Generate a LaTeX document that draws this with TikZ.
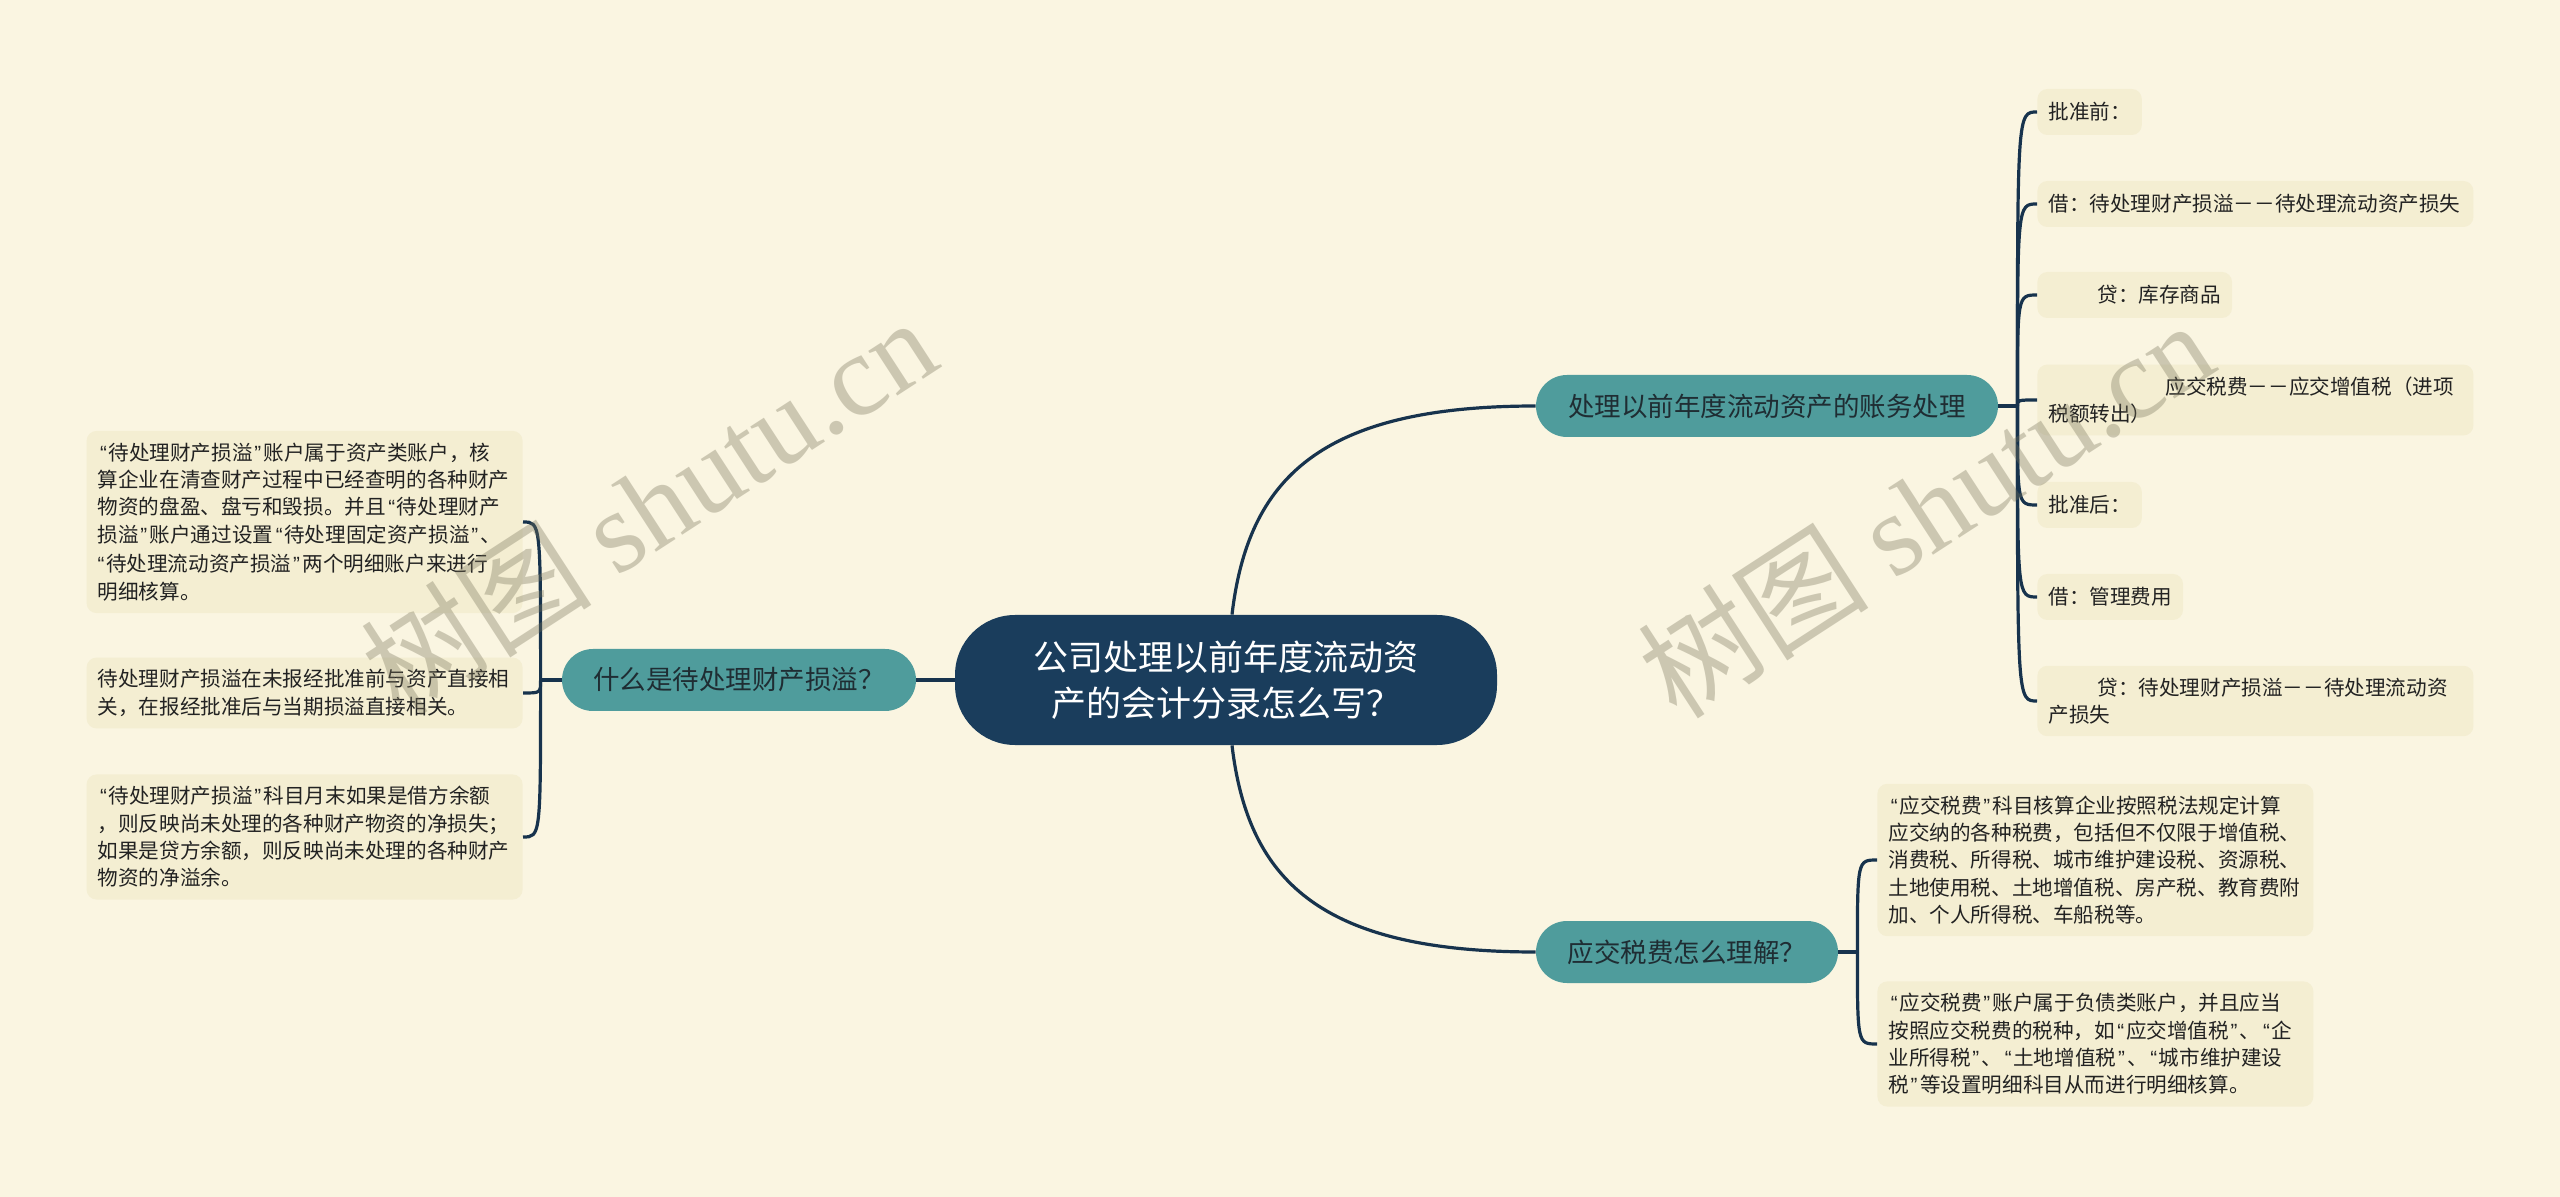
\documentclass[tikz,border=0pt]{standalone}
\usepackage{fontspec}
\setmainfont{Noto Sans CJK SC}
\newfontfamily\wmlatin{Liberation Serif}
\newfontfamily\quotefont{Liberation Sans}
\newcommand\oq{\kern0.12em{\quotefont “}\kern0.08em}
\newcommand\cq{\kern0.08em{\quotefont ”}\kern0.12em}
\usetikzlibrary{calc}
\definecolor{bgcol}{HTML}{FAF5E1}
\definecolor{leaffill}{HTML}{F4EED2}
\definecolor{tealcol}{HTML}{4F9C9C}
\definecolor{navycol}{HTML}{1A3D5C}
\definecolor{conncol}{HTML}{17334D}
\definecolor{branchtext}{HTML}{1F2D33}
\definecolor{leaftext}{HTML}{222222}
\definecolor{wmcol}{HTML}{78735A}
\tikzset{
  centerbox/.style={fill=navycol, text=white, rounded corners=30pt, minimum width=271pt, minimum height=65pt, align=center, inner sep=0pt, font=\fontsize{17.5pt}{23pt}\selectfont},
  branch/.style={fill=tealcol, text=branchtext, rounded corners=15.5pt, minimum height=31pt, inner xsep=0pt, font=\fontsize{13.25pt}{16pt}\selectfont},
  leaf/.style={fill=leaffill, text=leaftext, rounded corners=5pt, inner xsep=5.5pt, inner ysep=6pt, align=left, minimum height=23pt, font=\fontsize{10.3pt}{13.65pt}\selectfont},
  wideleaf/.style={leaf, text width=207pt},
  conn/.style={draw=conncol, line width=1.6pt},
  wm/.style={text=wmcol, text opacity=0.35, font=\fontsize{58pt}{62pt}\selectfont, rotate=33}
}
\begin{document}
\begin{tikzpicture}[x=0.5pt,y=-0.5pt]
\fill[bgcol] (0,0) rectangle (2560,1197);
\useasboundingbox (0,0) rectangle (2560,1197);

% central and main branches
\node[centerbox] (c) at (1226,680) {公司处理以前年度流动资\\产的会计分录怎么写？};
\node[branch, minimum width=177pt] (lb) at (739,680) {什么是待处理财产损溢？};
\node[branch, minimum width=231pt] (rt) at (1767,406) {处理以前年度流动资产的账务处理};
\node[branch, minimum width=151pt] (rb) at (1687,952) {应交税费怎么理解？};

% left leaves
\node[wideleaf, anchor=east] (l1) at (523,522) {\oq 待处理财产损溢\cq 账户属于资产类账户，核\\算企业在清查财产过程中已经查明的各种财产\\物资的盘盈、盘亏和毁损。并且\oq 待处理财产\\损溢\cq 账户通过设置\oq 待处理固定资产损溢\cq 、\\\oq 待处理流动资产损溢\cq 两个明细账户来进行\\明细核算。};
\node[wideleaf, anchor=east] (l2) at (523,693) {待处理财产损溢在未报经批准前与资产直接相\\关，在报经批准后与当期损溢直接相关。};
\node[wideleaf, anchor=east] (l3) at (523,837) {\oq 待处理财产损溢\cq 科目月末如果是借方余额\\，则反映尚未处理的各种财产物资的净损失；\\如果是贷方余额，则反映尚未处理的各种财产\\物资的净溢余。};

% right top leaves
\node[leaf, anchor=west] (r1) at (2037,112) {批准前：};
\node[wideleaf, anchor=west] (r2) at (2037,204) {借：待处理财产损溢－－待处理流动资产损失};
\node[leaf, anchor=west] (r3) at (2037,295) {\hspace*{24.5pt}贷：库存商品};
\node[wideleaf, anchor=west] (r4) at (2037,400) {\hspace*{58.5pt}应交税费－－应交增值税（进项\\税额转出）};
\node[leaf, anchor=west] (r5) at (2037,505) {批准后：};
\node[leaf, anchor=west] (r6) at (2037,597) {借：管理费用};
\node[wideleaf, anchor=west] (r7) at (2037,701) {\hspace*{24.5pt}贷：待处理财产损溢－－待处理流动资\\产损失};

% right bottom leaves
\node[wideleaf, anchor=west] (b1) at (1877,860) {\oq 应交税费\cq 科目核算企业按照税法规定计算\\应交纳的各种税费，包括但不仅限于增值税、\\消费税、所得税、城市维护建设税、资源税、\\土地使用税、土地增值税、房产税、教育费附\\加、个人所得税、车船税等。};
\node[wideleaf, anchor=west] (b2) at (1877,1044) {\oq 应交税费\cq 账户属于负债类账户，并且应当\\按照应交税费的税种，如\oq 应交增值税\cq 、\oq 企\\业所得税\cq 、\oq 土地增值税\cq 、\oq 城市维护建设\\税\cq 等设置明细科目从而进行明细核算。};

% connectors from center
\draw[conn] (c.west) -- (lb.east);
\draw[conn] ([xshift=3pt]c.north) .. controls +(8pt,67.5pt) and +(-108.5pt,0pt) .. (rt.west);
\draw[conn] ([xshift=3pt]c.south) .. controls +(8pt,-67pt) and +(-108.5pt,0pt) .. (rb.west);

% left bracket
\coordinate (jl) at ($(lb.west)+(-10.5pt,0pt)$);
\draw[conn] (lb.west) -- (jl);
\foreach \n in {l1,l2,l3}
  \draw[conn] (jl) .. controls (jl |- \n.east) and (jl |- \n.east) .. (\n.east);

% right top bracket
\coordinate (jr) at ($(rt.east)+(9.5pt,0pt)$);
\draw[conn] (rt.east) -- (jr);
\foreach \n in {r1,r2,r3,r4,r5,r6,r7}
  \draw[conn] (jr) .. controls (jr |- \n.west) and (jr |- \n.west) .. (\n.west);

% right bottom bracket
\coordinate (jb) at ($(rb.east)+(9.5pt,0pt)$);
\draw[conn] (rb.east) -- (jb);
\foreach \n in {b1,b2}
  \draw[conn] (jb) .. controls (jb |- \n.west) and (jb |- \n.west) .. (\n.west);

% watermarks
\node[wm] (w1) at (648,505) {树图 {\wmlatin shutu.cn}};
\node[wm] (w2) at (1925,508) {树图 {\wmlatin shutu.cn}};
\end{tikzpicture}
\end{document}
